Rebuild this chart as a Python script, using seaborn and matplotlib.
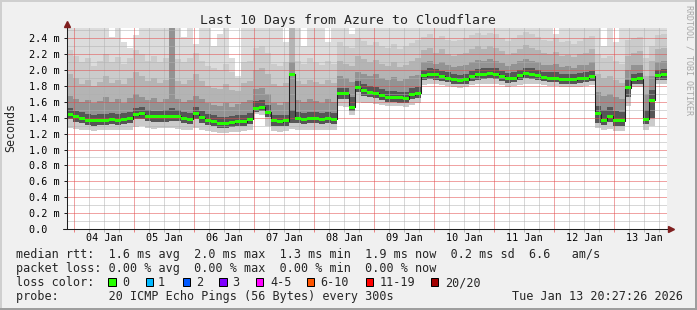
import numpy as np
import pandas as pd
import matplotlib
matplotlib.use("Agg")
import matplotlib.pyplot as plt
import seaborn as sns
from matplotlib.ticker import MultipleLocator, FuncFormatter, NullFormatter, FixedLocator
from matplotlib.patches import Rectangle

# ---------------- data (ms), one value per 2.4 h bin, first bin starts 2.8 h before 04 Jan 00:00
median = [1.44, 1.41, 1.39, 1.37, 1.36, 1.37, 1.37, 1.38, 1.37, 1.38,
          1.39, 1.44, 1.45, 1.42, 1.41, 1.41, 1.41, 1.42, 1.42, 1.39,
          1.38, 1.45, 1.40, 1.37, 1.35, 1.33, 1.33, 1.34, 1.35, 1.35,
          1.38, 1.52, 1.53, 1.47, 1.36, 1.35, 1.36, 1.95, 1.39, 1.38,
          1.39, 1.39, 1.38, 1.39, 1.38, 1.70, 1.70, 1.53, 1.78, 1.74,
          1.72, 1.71, 1.68, 1.66, 1.66, 1.65, 1.64, 1.69, 1.71, 1.93,
          1.95, 1.94, 1.92, 1.90, 1.88, 1.87, 1.88, 1.92, 1.94, 1.95,
          1.96, 1.95, 1.92, 1.89, 1.90, 1.93, 1.96, 1.95, 1.93, 1.91,
          1.90, 1.90, 1.88, 1.88, 1.88, 1.89, 1.90, 1.92, 1.45, 1.37,
          1.42, 1.36, 1.36, 1.78, 1.88, 1.89, 1.38, 1.62, 1.93, 1.94]

p_min = [1.27, 1.26, 1.25, 1.24, 1.23, 1.24, 1.24, 1.25, 1.24, 1.25,
         1.25, 1.28, 1.29, 1.27, 1.26, 1.27, 1.27, 1.27, 1.26, 1.25,
         1.24, 1.27, 1.25, 1.23, 1.22, 1.21, 1.21, 1.22, 1.22, 1.23,
         1.24, 1.45, 1.44, 1.30, 1.23, 1.22, 1.23, 1.26, 1.25, 1.24,
         1.25, 1.25, 1.24, 1.25, 1.24, 1.55, 1.54, 1.43, 1.60, 1.59,
         1.58, 1.57, 1.56, 1.55, 1.55, 1.55, 1.54, 1.56, 1.58, 1.81,
         1.82, 1.82, 1.81, 1.80, 1.79, 1.78, 1.79, 1.81, 1.82, 1.83,
         1.83, 1.83, 1.81, 1.79, 1.80, 1.81, 1.83, 1.83, 1.82, 1.81,
         1.80, 1.80, 1.79, 1.79, 1.79, 1.79, 1.80, 1.81, 1.27, 1.24,
         1.26, 1.23, 1.23, 1.55, 1.79, 1.79, 1.25, 1.30, 1.82, 1.83]

p_q25 = [1.38, 1.35, 1.33, 1.31, 1.30, 1.31, 1.31, 1.32, 1.31, 1.32,
         1.33, 1.38, 1.39, 1.36, 1.35, 1.35, 1.35, 1.36, 1.36, 1.33,
         1.32, 1.39, 1.34, 1.31, 1.29, 1.27, 1.27, 1.28, 1.29, 1.29,
         1.32, 1.47, 1.48, 1.41, 1.30, 1.29, 1.30, 1.33, 1.33, 1.32,
         1.33, 1.33, 1.32, 1.33, 1.32, 1.64, 1.64, 1.48, 1.72, 1.68,
         1.66, 1.65, 1.62, 1.60, 1.60, 1.59, 1.58, 1.63, 1.65, 1.87,
         1.89, 1.88, 1.86, 1.85, 1.83, 1.82, 1.83, 1.86, 1.88, 1.89,
         1.90, 1.89, 1.86, 1.84, 1.85, 1.87, 1.90, 1.89, 1.87, 1.86,
         1.85, 1.85, 1.83, 1.83, 1.83, 1.84, 1.85, 1.86, 1.34, 1.31,
         1.35, 1.30, 1.30, 1.66, 1.82, 1.83, 1.32, 1.40, 1.87, 1.88]

p_q70 = [1.52, 1.49, 1.47, 1.45, 1.44, 1.45, 1.45, 1.46, 1.45, 1.46,
         1.47, 1.52, 1.53, 1.50, 1.49, 1.49, 1.50, 1.52, 1.50, 1.47,
         1.46, 1.53, 1.48, 1.45, 1.43, 1.41, 1.41, 1.42, 1.43, 1.43,
         1.46, 1.61, 1.62, 1.56, 1.44, 1.43, 1.44, 1.50, 1.47, 1.46,
         1.47, 1.47, 1.46, 1.47, 1.46, 1.78, 1.78, 1.66, 1.86, 1.82,
         1.80, 1.79, 1.76, 1.74, 1.74, 1.73, 1.72, 1.77, 1.79, 2.00,
         2.02, 2.01, 1.99, 1.97, 1.95, 1.94, 1.95, 1.99, 2.01, 2.02,
         2.03, 2.02, 1.99, 1.96, 1.97, 2.00, 2.03, 2.02, 2.00, 1.98,
         1.97, 1.97, 1.95, 1.95, 1.95, 1.96, 1.97, 1.99, 1.55, 1.50,
         1.53, 1.48, 1.47, 1.88, 1.95, 1.96, 1.50, 1.75, 2.00, 2.01]

p_q80 = [1.68, 1.64, 1.60, 1.62, 1.58, 1.61, 1.66, 1.60, 1.63, 1.59,
         1.65, 1.70, 1.66, 1.62, 1.65, 1.60, 1.64, 2.60, 1.63, 1.60,
         1.62, 1.68, 1.63, 1.58, 1.56, 1.55, 1.58, 1.54, 1.57, 1.60,
         1.62, 1.76, 1.78, 1.70, 1.58, 1.56, 1.60, 2.10, 1.62, 1.60,
         1.64, 1.61, 1.59, 1.63, 1.60, 1.92, 1.90, 1.85, 1.98, 1.95,
         1.93, 1.95, 1.90, 1.88, 1.91, 1.86, 1.89, 1.92, 1.94, 2.10,
         2.12, 2.08, 2.10, 2.06, 2.04, 2.05, 2.07, 2.10, 2.13, 2.11,
         2.14, 2.12, 2.09, 2.05, 2.08, 2.11, 2.14, 2.12, 2.10, 2.07,
         2.06, 2.08, 2.04, 2.05, 2.03, 2.06, 2.07, 2.10, 1.72, 1.68,
         1.70, 1.66, 1.63, 2.00, 2.06, 2.07, 1.70, 1.92, 2.10, 2.12]

p_q90 = [1.95, 1.90, 1.82, 1.88, 1.80, 1.85, 1.92, 1.84, 1.88, 1.82,
         1.90, 1.98, 1.92, 1.86, 1.90, 1.84, 1.88, 2.60, 1.86, 1.83,
         1.88, 1.95, 1.86, 1.80, 1.78, 1.76, 1.82, 1.75, 1.74, 1.84,
         1.86, 2.00, 2.02, 1.95, 1.82, 1.80, 1.84, 2.60, 1.86, 1.83,
         1.88, 1.85, 1.82, 1.87, 1.84, 2.12, 2.08, 2.05, 2.18, 2.14,
         2.10, 2.13, 2.08, 2.05, 2.10, 2.04, 2.07, 2.12, 2.15, 2.25,
         2.28, 2.22, 2.26, 2.20, 2.18, 2.20, 2.22, 2.26, 2.30, 2.27,
         2.30, 2.28, 2.24, 2.19, 2.22, 2.27, 2.31, 2.28, 2.25, 2.21,
         2.20, 2.23, 2.18, 2.19, 2.16, 2.20, 2.22, 2.26, 1.95, 1.90,
         1.92, 1.88, 1.84, 2.18, 2.22, 2.24, 1.92, 2.12, 2.26, 2.28]

p_q95 = [2.25, 2.18, 2.10, 2.15, 2.05, 2.12, 2.20, 2.10, 2.16, 2.08,
         2.15, 2.25, 2.20, 2.12, 2.18, 2.10, 2.15, 2.60, 2.14, 2.10,
         2.15, 2.22, 2.12, 2.05, 2.02, 2.00, 2.08, 1.98, 1.90, 2.10,
         2.12, 2.28, 2.30, 2.22, 2.08, 2.05, 2.10, 2.60, 2.12, 2.08,
         2.15, 2.10, 2.06, 2.12, 2.08, 2.35, 2.30, 2.28, 2.40, 2.36,
         2.32, 2.35, 2.30, 2.28, 2.33, 2.26, 2.30, 2.34, 2.38, 2.42,
         2.45, 2.40, 2.43, 2.38, 2.36, 2.38, 2.40, 2.44, 2.47, 2.44,
         2.47, 2.45, 2.41, 2.36, 2.40, 2.44, 2.48, 2.45, 2.42, 2.38,
         2.37, 2.40, 2.35, 2.36, 2.33, 2.37, 2.40, 2.43, 2.20, 2.15,
         2.18, 2.12, 2.08, 2.38, 2.40, 2.42, 2.15, 2.30, 2.44, 2.46]

p_max = [2.60, 2.60, 2.60, 2.60, 2.60, 2.60, 2.60, 2.42, 2.60, 2.35,
         2.28, 2.44, 2.60, 2.60, 2.60, 2.60, 2.60, 2.60, 2.60, 2.42,
         2.60, 2.33, 2.60, 2.60, 2.30, 2.45, 2.60, 2.15, 1.92, 2.60,
         2.60, 2.60, 2.60, 2.60, 2.60, 2.60, 2.35, 2.60, 2.60, 2.30,
         2.60, 2.60, 2.60, 2.35, 2.60, 2.60, 2.60, 2.45, 2.60, 2.60,
         2.60, 2.60, 2.60, 2.60, 2.60, 2.60, 2.60, 2.60, 2.60, 2.60,
         2.60, 2.60, 2.60, 2.60, 2.60, 2.60, 2.60, 2.60, 2.60, 2.60,
         2.60, 2.60, 2.60, 2.60, 2.60, 2.60, 2.60, 2.60, 2.60, 2.60,
         2.60, 2.46, 2.60, 2.60, 2.60, 2.60, 2.60, 2.60, 2.60, 2.30,
         2.60, 2.35, 2.60, 2.60, 2.60, 2.60, 2.60, 2.60, 2.60, 2.60]

day_labels = ["04 Jan", "05 Jan", "06 Jan", "07 Jan", "08 Jan",
              "09 Jan", "10 Jan", "11 Jan", "12 Jan", "13 Jan"]

loss_labels = ["0", "1", "2", "3", "4-5", "6-10", "11-19", "20/20"]
loss_colors = ["#26ff00", "#00b8ff", "#0059ff", "#7e00ff",
               "#ff00ff", "#ff5500", "#ff0000", "#a10000"]

title = "Last 10 Days from Azure to Cloudflare"
row_rtt = "median rtt:  1.6 ms avg  2.0 ms max  1.3 ms min  1.9 ms now  0.2 ms sd  6.6   am/s"
row_loss = "packet loss: 0.00 % avg  0.00 % max  0.00 % min  0.00 % now"
row_probe = "probe:       20 ICMP Echo Pings (56 Bytes) every 300s"
stamp = "Tue Jan 13 20:27:26 2026"

# ---------------- figure
W, H = 697, 310
sns.set_theme(style="white")
plt.rcParams["font.family"] = ["DejaVu Sans Mono", "DejaVu Sans"]
MONO = "DejaVu Sans Mono"

fig = plt.figure(figsize=(W / 100, H / 100), dpi=100, facecolor="#f0f0f0")
AX_L, AX_R, AX_T, AX_B = 67, 667, 28, 229
ax = fig.add_axes([AX_L / W, 1 - AX_B / H, (AX_R - AX_L) / W, (AX_B - AX_T) / H])
ax.set_facecolor("white")

n = len(median)
t_start, t_step = -2.8, 2.4
edges = t_start + t_step * np.arange(n + 1)


def ext(a):
    a = np.asarray(a, dtype=float)
    return np.append(a, a[-1])


layers = [(p_min, p_max, "#dcdcdc"),
          (p_min, p_q95, "#cbcbcb"),
          (p_q25, p_q90, "#b4b4b4"),
          (p_q25, p_q80, "#939393"),
          (p_q25, p_q70, "#565656")]
for lo, hi, col in layers:
    ax.fill_between(edges, ext(lo), ext(hi), step="post", color=col,
                    lw=0, antialiased=False, zorder=1)

df = pd.DataFrame({"t": edges, "median": ext(median)})
sns.lineplot(data=df, x="t", y="median", drawstyle="steps-post",
             color="#202020", lw=0.75, ax=ax, zorder=3)
ax.fill_between(edges, ext(median) - 0.019, ext(median) + 0.019, step="post",
                color=loss_colors[0], lw=0, zorder=4)

ax.set_xlim(-2.8, 237.2)
ax.set_ylim(0, 201 / 79.46)
ax.set_xlabel("")
ax.set_ylabel("")

# ticks (minor positions exclude the major ones explicitly)
ax.xaxis.set_major_locator(MultipleLocator(24))
ax.xaxis.set_minor_locator(FixedLocator([h for h in range(0, 240, 6) if h % 24]))
ax.yaxis.set_major_locator(MultipleLocator(0.2))
ax.yaxis.set_minor_locator(FixedLocator([0.1 + 0.2 * i for i in range(13)]))
ax.xaxis.set_major_formatter(NullFormatter())


def xfmt(v, pos):
    h = int(round(v))
    if h % 24 == 12 and 0 <= h // 24 < len(day_labels):
        return day_labels[h // 24]
    return ""


def yfmt(v, pos):
    if abs(v) < 1e-9:
        return "0.0  "
    return f"{v:.1f} m"


ax.xaxis.set_minor_formatter(FuncFormatter(xfmt))
ax.yaxis.set_major_formatter(FuncFormatter(yfmt))
ax.grid(False)

# dotted grid drawn over the smoke, taken from the axis tick positions
DOT = (0, (1, 1))
x_lo, x_hi = ax.get_xlim()
y_lo, y_hi = ax.get_ylim()
for v in ax.xaxis.get_minorticklocs():
    ax.axvline(v, color="#b0b0b0", lw=0.72, linestyle=DOT, zorder=2.4)
for v in ax.yaxis.get_minorticklocs():
    if y_lo < v < y_hi:
        ax.axhline(v, color="#b0b0b0", lw=0.72, linestyle=DOT, zorder=2.4)
for v in ax.xaxis.get_majorticklocs():
    if x_lo < v < x_hi:
        ax.axvline(v, color="#e24848", lw=0.72, linestyle=DOT, zorder=2.5)
for v in ax.yaxis.get_majorticklocs():
    if y_lo < v < y_hi:
        ax.axhline(v, color="#e24848", lw=0.72, linestyle=DOT, zorder=2.5)

ax.tick_params(axis="x", which="major", bottom=True, length=2, width=0.72,
               color="#eb8080", labelbottom=False)
ax.tick_params(axis="x", which="minor", bottom=True, length=2, width=0.72,
               color="#b8b8b8", labelsize=7.3, pad=1.2, labelcolor="black")
ax.tick_params(axis="y", which="major", left=True, length=2.2, width=0.72,
               color="#1f1f1f", labelsize=7.3, pad=2.9, labelcolor="black")
ax.tick_params(axis="y", which="minor", left=False, length=0)
for lab in ax.get_xticklabels(minor=True) + ax.get_yticklabels():
    lab.set_fontfamily(MONO)

for s in ax.spines.values():
    s.set_visible(False)

# axis lines with arrows
h_ax = AX_B - AX_T
w_ax = AX_R - AX_L
ax.plot([0, 0], [0, (AX_B - 23) / h_ax], transform=ax.transAxes,
        color="#1f1f1f", lw=0.75, clip_on=False, zorder=6)
ax.plot([-4 / w_ax, (669 - AX_L) / w_ax], [0, 0], transform=ax.transAxes,
        color="#1f1f1f", lw=0.75, clip_on=False, zorder=6)
ax.plot([0], [(AX_B - 24) / h_ax], marker="^", ms=4.5, color="#7f1f1f",
        transform=ax.transAxes, clip_on=False, zorder=7)
ax.plot([(670.5 - AX_L) / w_ax], [0], marker=">", ms=4.5, color="#7f1f1f",
        transform=ax.transAxes, clip_on=False, zorder=7)


def fx(x):
    return x / W


def fy(y):
    return 1 - y / H


# texts
fig.text(fx(347.5), fy(24), title, fontsize=9.5, family=MONO,
         ha="center", va="baseline")
fig.text(fx(11), fy(127), "Seconds", fontsize=8.4, family=MONO,
         rotation=90, ha="center", va="center")
fig.text(fx(688.5), fy(60), "RRDTOOL / TOBI OETIKER", fontsize=6.0, family=MONO,
         rotation=270, ha="center", va="center", color="#a8a8a8")

LEG = 8.5
fig.text(fx(15.5), fy(258), row_rtt, fontsize=LEG, family=MONO, va="baseline")
fig.text(fx(15.5), fy(272), row_loss, fontsize=LEG, family=MONO, va="baseline")
fig.text(fx(15.5), fy(286), "loss color:", fontsize=LEG, family=MONO, va="baseline")
fig.text(fx(15.5), fy(300), row_probe, fontsize=LEG, family=MONO, va="baseline")
fig.text(fx(512.5), fy(300), stamp, fontsize=LEG, family=MONO, va="baseline")

box_x = [108.3, 145.7, 182.7, 219.3, 256.0, 307.0, 365.7, 430.7]
lab_x = [122.3, 158.0, 195.7, 232.3, 270.0, 320.0, 379.5, 444.7]
for bx, lx, lab, col in zip(box_x, lab_x, loss_labels, loss_colors):
    fig.patches.append(Rectangle((fx(bx), fy(286.3)), 7.3 / W, 8 / H,
                                 transform=fig.transFigure, facecolor=col,
                                 edgecolor="black", lw=0.72))
    fig.text(fx(lx), fy(286), lab, fontsize=LEG, family=MONO, va="baseline")

# frame shading
fig.patches.append(Rectangle((0, 1 - 2 / H), 1, 2 / H, transform=fig.transFigure,
                             facecolor="#cfcfcf", lw=0))
fig.patches.append(Rectangle((0, 0), 2 / W, 1, transform=fig.transFigure,
                             facecolor="#cfcfcf", lw=0))
fig.patches.append(Rectangle((0, 0), 1, 2 / H, transform=fig.transFigure,
                             facecolor="#9e9e9e", lw=0))
fig.patches.append(Rectangle((1 - 2 / W, 0), 2 / W, 1, transform=fig.transFigure,
                             facecolor="#9e9e9e", lw=0))

fig.savefig("out.png", dpi=100, facecolor=fig.get_facecolor())
